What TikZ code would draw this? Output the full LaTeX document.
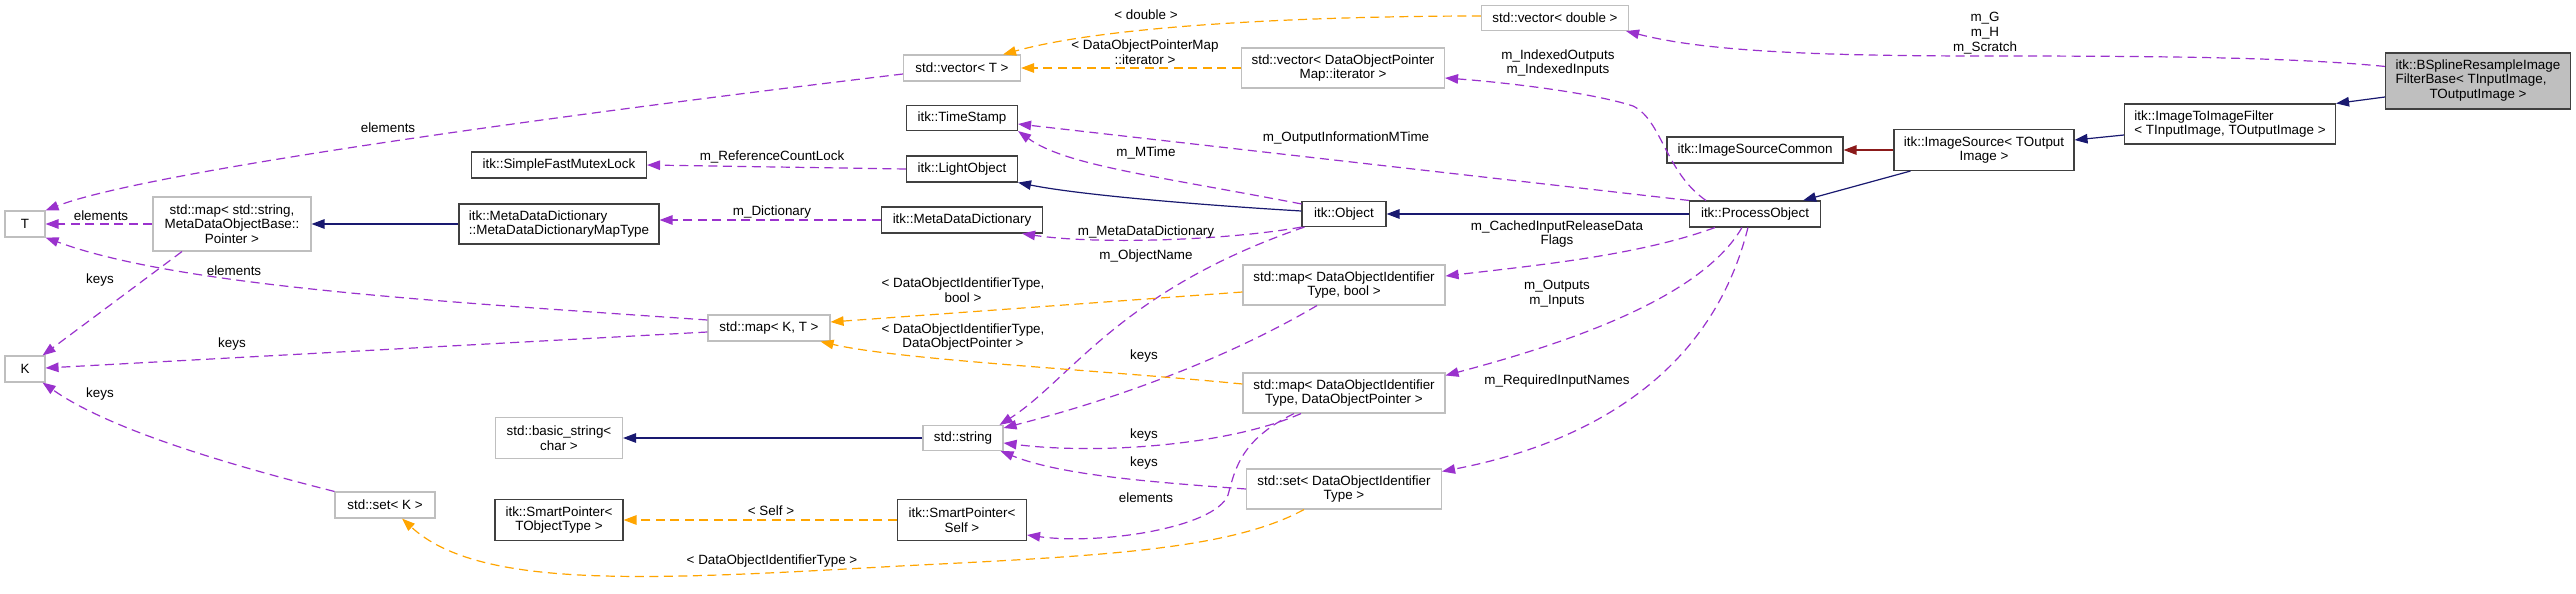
\documentclass[tikz,border=0pt]{standalone}
\usepackage{fontspec}
\setmainfont{Liberation Sans}
\usetikzlibrary{arrows.meta}
\definecolor{purp}{RGB}{154,50,205}
\definecolor{orng}{RGB}{255,165,0}
\definecolor{navy}{RGB}{25,25,112}
\definecolor{fbrick}{RGB}{139,26,26}
\definecolor{lgray}{RGB}{191,191,191}
\definecolor{dgray}{RGB}{64,64,64}
\newcommand\dfont{\fontsize{13.4}{14.7}\selectfont}
\begin{document}
\begin{tikzpicture}[x=1pt,y=-1pt,
  box/.style={draw, line width=1.1pt, fill=white, inner sep=0pt, align=center, font=\dfont},
  doc/.style={box, draw=dgray},
  undoc/.style={box, draw=lgray},
  lbl/.style={inner sep=0pt, align=center, font=\dfont},
  tip/.style={-{Triangle[length=13pt,width=9.5pt]}},
  use/.style={draw=purp, line width=1.2pt, dash pattern=on 9pt off 5.5pt, tip},
  tmpl/.style={draw=orng, line width=1.2pt, dash pattern=on 9pt off 5.5pt, tip},
  inh/.style={draw=navy, line width=1.2pt, tip},
  prot/.style={draw=fbrick, line width=1.2pt, tip}]
\fill[white] (0,0) rectangle (2576,594);
\useasboundingbox (0,0) rectangle (2576,594);

% nodes
\node[undoc, minimum width=40pt, minimum height=26pt] (T) at (25,224) {T};
\node[undoc, minimum width=40pt, minimum height=26pt] (K) at (25,369) {K};
\node[undoc, minimum width=158pt, minimum height=54pt] (mapS) at (232,224) {std::map< std::string,\\ MetaDataObjectBase::\\Pointer >};
\node[doc, minimum width=175pt, minimum height=26pt] (mutex) at (559,165) {itk::SimpleFastMutexLock};
\node[doc, align=left, minimum width=200pt, minimum height=40pt] (mdmt) at (559,224) {itk::MetaDataDictionary\\::MetaDataDictionaryMapType};
\node[undoc, minimum width=127pt, minimum height=41pt] (bstr) at (559,438) {std::basic\_string<\\char >};
\node[undoc, minimum width=100pt, minimum height=26pt] (setK) at (385,505) {std::set< K >};
\node[doc, minimum width=128pt, minimum height=41pt] (spT) at (559,520) {itk::SmartPointer<\\TObjectType >};
\node[undoc, minimum width=122pt, minimum height=26pt] (mapKT) at (769,328) {std::map< K, T >};
\node[undoc, minimum width=117pt, minimum height=26pt] (vecT) at (962,68) {std::vector< T >};
\node[doc, minimum width=111pt, minimum height=25pt] (ts) at (962,118) {itk::TimeStamp};
\node[doc, minimum width=111pt, minimum height=26pt] (lo) at (962,169) {itk::LightObject};
\node[doc, minimum width=161pt, minimum height=26pt] (mdd) at (962,220) {itk::MetaDataDictionary};
\node[undoc, minimum width=80pt, minimum height=25pt] (str) at (963,438) {std::string};
\node[doc, minimum width=129pt, minimum height=41pt] (spS) at (962,520) {itk::SmartPointer<\\Self >};
\node[undoc, minimum width=203pt, minimum height=40pt] (vecIt) at (1343,68) {std::vector< DataObjectPointer\\Map::iterator >};
\node[doc, minimum width=84pt, minimum height=25pt] (obj) at (1344,214) {itk::Object};
\node[undoc, minimum width=202pt, minimum height=40pt] (mapB) at (1344,285) {std::map< DataObjectIdentifier\\Type, bool >};
\node[undoc, minimum width=202pt, minimum height=40pt] (mapP) at (1344,393) {std::map< DataObjectIdentifier\\Type, DataObjectPointer >};
\node[undoc, minimum width=195pt, minimum height=40pt] (setD) at (1344,489) {std::set< DataObjectIdentifier\\Type >};
\node[undoc, minimum width=147pt, minimum height=25pt] (vecD) at (1555,18) {std::vector< double >};
\node[doc, minimum width=176pt, minimum height=26pt] (isc) at (1755,150) {itk::ImageSourceCommon};
\node[doc, minimum width=131pt, minimum height=26pt] (po) at (1755,214) {itk::ProcessObject};
\node[doc, minimum width=180pt, minimum height=41pt] (is) at (1984,150) {itk::ImageSource< TOutput\\Image >};
\node[doc, align=left, minimum width=211pt, minimum height=40pt] (itif) at (2230,124) {itk::ImageToImageFilter\\< TInputImage, TOutputImage >};
\node[doc, fill=lgray, minimum width=185pt, minimum height=56pt] (bs) at (2478,81) {\begin{tabular}{@{}l@{}}itk::BSplineResampleImage\\FilterBase< TInputImage,\\\multicolumn{1}{@{}c@{}}{TOutputImage >}\end{tabular}};

% edges
\draw[use] ([yshift=-14pt]bs.north west) .. controls (2290,57) and (2150,56) .. (1985,56) .. controls (1800,56) and (1700,50) .. ([xshift=-3pt]vecD.south east);
\draw[tmpl] ([yshift=2pt]vecD.west) .. controls (1350,16) and (1120,22) .. ([xshift=-18pt]vecT.north east);
\draw[tmpl] (vecIt.west) -- (vecT.east);
\draw[use] ([yshift=-6pt]vecT.west) .. controls (600,110) and (150,170) .. (T.north east);
\draw[use] (mapS.west) -- (T.east);
\draw[use] ([xshift=-50pt]mapS.south) -- ([xshift=-3pt]K.north east);
\draw[inh] (mdmt.west) -- (mapS.east);
\draw[use] (mdd.west) -- (mdd.west -| mdmt.east);
\draw[use] (lo.west) -- (mutex.east);
\draw[inh] ([yshift=3pt]obj.west) .. controls (1200,205) and (1080,195) .. (lo.south east);
\draw[use] ([yshift=-3pt]obj.north west) .. controls (1150,175) and (1065,165) .. (ts.south east);
\draw[use] (po.north west) -- ([yshift=-6pt]ts.east);
\draw[use] ([xshift=17pt]po.north west) .. controls (1665,172) and (1662,120) .. (1633,106) .. controls (1590,92) and (1500,82) .. ([yshift=-10pt]vecIt.east);
\draw[inh] ([xshift=17pt]is.south west) -- ([xshift=-18pt]po.north east);
\draw[prot] (is.west) -- (isc.east);
\draw[inh] ([yshift=-11pt]itif.west) -- ([yshift=10pt]is.east);
\draw[inh] ([yshift=-16pt]bs.west) -- (itif.north east);
\draw[inh] (po.west) -- (obj.east);
\draw[use] (obj.south west) .. controls (1230,240) and (1100,245) .. ([xshift=-21pt]mdd.south east);
\draw[use] ([xshift=3pt]obj.south west) .. controls (1120,290) and (1070,380) .. ([xshift=-4pt]str.north east);
\draw[use] ([xshift=26pt]po.south west) .. controls (1640,255) and (1540,265) .. ([yshift=9pt]mapB.east);
\draw[tmpl] ([yshift=-7pt]mapB.west) -- ([yshift=6pt]mapKT.east);
\draw[use] ([xshift=-27pt]mapB.south) .. controls (1250,345) and (1150,390) .. ([yshift=10pt]str.east);
\draw[use] ([xshift=53pt]po.south west) .. controls (1700,300) and (1560,345) .. ([yshift=-3pt]mapP.north east);
\draw[use] ([xshift=59pt]po.south west) .. controls (1710,380) and (1580,445) .. ([yshift=-3pt]setD.north east);
\draw[tmpl] ([yshift=9pt]mapP.west) .. controls (1100,370) and (900,360) .. ([xshift=-10pt]mapKT.south east);
\draw[use] ([xshift=-43pt]mapP.south) .. controls (1230,445) and (1100,455) .. ([yshift=-5pt]str.east);
\draw[use] ([xshift=-50pt]mapP.south) .. controls (1240,440) and (1235,470) .. (1228,495) .. controls (1215,528) and (1100,545) .. ([yshift=-15pt]spS.east);
\draw[use] (setD.west) .. controls (1150,482) and (1060,475) .. ([xshift=-3pt]str.south east);
\draw[tmpl] ([xshift=-40pt]setD.south) .. controls (1230,550) and (1100,556) .. (900,566) .. controls (650,580) and (480,590) .. ([xshift=17pt]setK.south);
\draw[tmpl] (spS.west) -- (spT.east);
\draw[inh] (str.west) -- (bstr.east);
\draw[use] ([yshift=8pt]mapKT.west) .. controls (450,302) and (180,287) .. (T.south east);
\draw[use] ([yshift=-4pt]mapKT.west) -- ([yshift=1pt]K.east);
\draw[use] (setK.north west) .. controls (230,465) and (110,430) .. ([xshift=-3pt]K.south east);

% labels
\node[lbl] (l1) at (1985,33) {m\_G\\m\_H\\m\_Scratch};
\node[lbl] (l2) at (1146,15) {< double >};
\node[lbl] (l3) at (1145,52) {< DataObjectPointerMap\\::iterator >};
\node[lbl] (l4) at (388,128) {elements};
\node[lbl] (l5) at (101,216) {elements};
\node[lbl] (l6) at (100,280) {keys};
\node[lbl] (l8) at (772,212) {m\_Dictionary};
\node[lbl] (l9) at (772,157) {m\_ReferenceCountLock};
\node[lbl] (l11) at (1146,153) {m\_MTime};
\node[lbl] (l12) at (1346,138) {m\_OutputInformationMTime};
\node[lbl] (l13) at (1558,63) {m\_IndexedOutputs\\m\_IndexedInputs};
\node[lbl] (l19) at (1146,232) {m\_MetaDataDictionary};
\node[lbl] (l20) at (1146,256) {m\_ObjectName};
\node[lbl] (l21) at (1557,234) {m\_CachedInputReleaseData\\Flags};
\node[lbl] (l22) at (963,290) {< DataObjectIdentifierType,\\bool >};
\node[lbl] (l23) at (1144,356) {keys};
\node[lbl] (l24) at (1557,294) {m\_Outputs\\m\_Inputs};
\node[lbl] (l25) at (963,337) {< DataObjectIdentifierType,\\DataObjectPointer >};
\node[lbl] (l26) at (1144,435) {keys};
\node[lbl] (l27) at (1146,498) {elements};
\node[lbl] (l28) at (1557,381) {m\_RequiredInputNames};
\node[lbl] (l29) at (1144,463) {keys};
\node[lbl] (l30) at (772,561) {< DataObjectIdentifierType >};
\node[lbl] (l31) at (771,511) {< Self >};
\node[lbl] (l33) at (234,271) {elements};
\node[lbl] (l34) at (232,344) {keys};
\node[lbl] (l35) at (100,394) {keys};
\end{tikzpicture}
\end{document}
